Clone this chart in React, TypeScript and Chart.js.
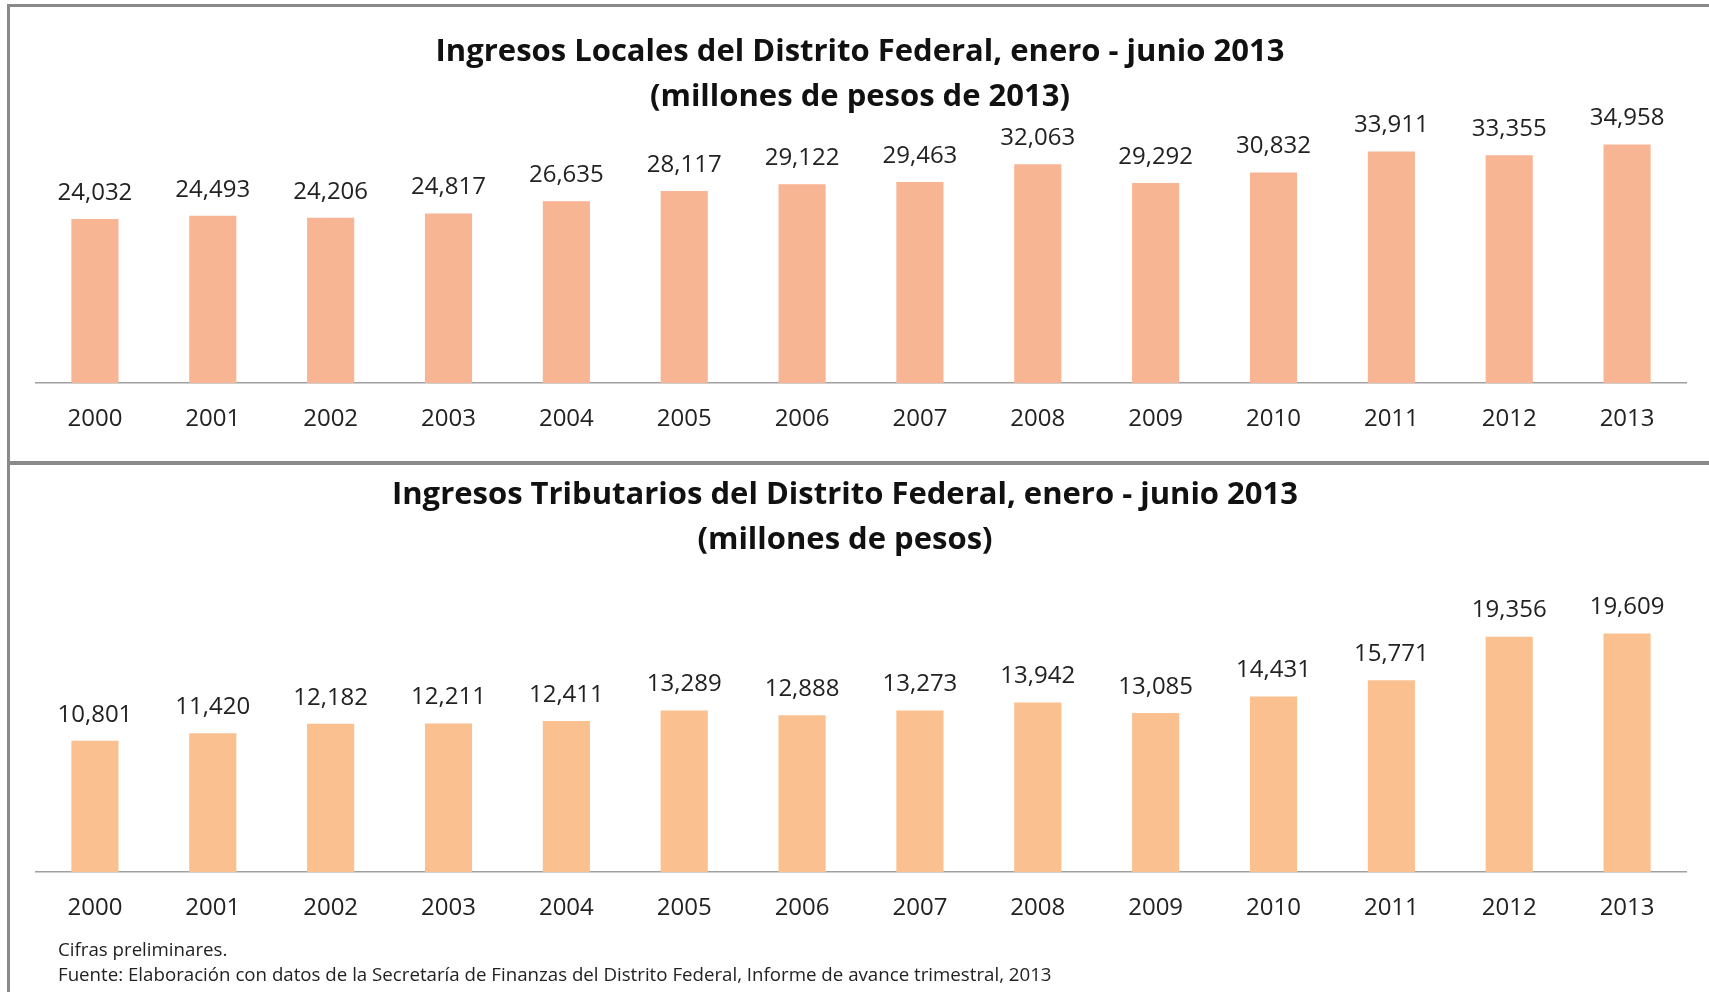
import React, { useEffect, useRef } from "react";
import { Chart, registerables } from "chart.js";

Chart.register(...registerables);

const years = ["2000", "2001", "2002", "2003", "2004", "2005", "2006", "2007", "2008", "2009", "2010", "2011", "2012", "2013"];
const ingresosLocales = [24032, 24493, 24206, 24817, 26635, 28117, 29122, 29463, 32063, 29292, 30832, 33911, 33355, 34958];
const ingresosTributarios = [10801, 11420, 12182, 12211, 12411, 13289, 12888, 13273, 13942, 13085, 14431, 15771, 19356, 19609];

const topTitle = ["Ingresos Locales del Distrito Federal, enero - junio 2013", "(millones de pesos de 2013)"];
const bottomTitle = ["Ingresos Tributarios del Distrito Federal, enero - junio 2013", "(millones de pesos)"];
const footnotes = [
  "Cifras preliminares.",
  "Fuente: Elaboración con datos de la Secretaría de Finanzas del Distrito Federal, Informe de avance trimestral, 2013",
];

const FONT = "'Open Sans', 'Liberation Sans', sans-serif";
const TITLE_FONT = "'Open Sans', 'Liberation Sans', sans-serif";

const valueLabels = {
  id: "valueLabels",
  afterDatasetsDraw(chart: any, _args: any, opts: any) {
    const { ctx } = chart;
    const meta = chart.getDatasetMeta(0);
    const data = chart.data.datasets[0].data as number[];
    ctx.save();
    ctx.font = `24px ${FONT}`;
    ctx.fillStyle = "#222";
    ctx.textAlign = "center";
    ctx.textBaseline = "middle";
    meta.data.forEach((bar: any, i: number) => {
      ctx.fillText(data[i].toLocaleString("en-US"), bar.x, bar.y - (opts.offset ?? 26));
    });
    ctx.restore();
  },
};

type BarProps = {
  values: number[];
  color: string;
  max: number;
  width: number;
  height: number;
  padTop: number;
  axisHeight: number;
};

function BarChart({ values, color, max, width, height, padTop, axisHeight }: BarProps) {
  const ref = useRef<HTMLCanvasElement>(null);
  useEffect(() => {
    if (!ref.current) return;
    const chart = new Chart(ref.current, {
      type: "bar",
      data: {
        labels: years,
        datasets: [
          {
            data: values,
            backgroundColor: color,
            borderWidth: 0,
            barPercentage: 0.4,
            categoryPercentage: 1,
          },
        ],
      },
      options: {
        animation: false,
        responsive: false,
        devicePixelRatio: 1,
        layout: { padding: { top: padTop, left: 36, right: 23, bottom: 0 } },
        plugins: {
          legend: { display: false },
          tooltip: { enabled: false },
          title: { display: false },
          valueLabels: { offset: 26 },
        } as any,
        scales: {
          x: {
            grid: { display: false, drawTicks: false, tickLength: 0 },
            border: { display: true, color: "#a0a0a0", width: 1.5 },
            ticks: {
              color: "#222",
              font: { family: FONT, size: 24 },
              padding: 22,
              maxRotation: 0,
            },
            afterFit: (axis: any) => {
              axis.height = axisHeight;
            },
          },
          y: {
            display: false,
            min: 0,
            max: max,
          },
        },
      },
      plugins: [valueLabels],
    });
    return () => chart.destroy();
  }, []);
  return <canvas ref={ref} width={width} height={height} style={{ display: "block", width, height }} />;
}

const titleStyle = (top: number, cx: number): React.CSSProperties => ({
  position: "absolute",
  top,
  left: cx - 600,
  width: 1200,
  textAlign: "center",
  fontFamily: TITLE_FONT,
  fontWeight: 700,
  fontSize: 31,
  lineHeight: "45px",
  color: "#111",
  whiteSpace: "nowrap",
});

export default function App() {
  useEffect(() => {
    document.body.style.margin = "0";
  }, []);
  return (
    <div style={{ position: "relative", width: 1709, height: 992, overflow: "hidden", background: "#fff" }}>
      <div style={{ position: "absolute", left: 0, top: 0 }}>
        <BarChart values={ingresosLocales} color="#F8B593" max={40000} width={1709} height={463} padTop={110} axisHeight={80} />
      </div>
      <div style={{ position: "absolute", left: 0, top: 463 }}>
        <BarChart values={ingresosTributarios} color="#FAC090" max={25000} width={1709} height={529} padTop={105} axisHeight={120} />
      </div>
      <div style={titleStyle(27, 860)}>
        {topTitle.map((t) => (
          <div key={t}>{t}</div>
        ))}
      </div>
      <div style={titleStyle(470, 845)}>
        {bottomTitle.map((t) => (
          <div key={t}>{t}</div>
        ))}
      </div>
      <div
        style={{
          position: "absolute",
          left: 58,
          top: 936,
          fontFamily: FONT,
          fontSize: 18.7,
          lineHeight: "25px",
          color: "#222",
          whiteSpace: "nowrap",
        }}
      >
        {footnotes.map((t) => (
          <div key={t}>{t}</div>
        ))}
      </div>
      <div style={{ position: "absolute", left: 7, top: 4, width: 1702, height: 3, background: "#8a8a8a" }} />
      <div style={{ position: "absolute", left: 7, top: 4, width: 3, height: 988, background: "#8a8a8a" }} />
      <div style={{ position: "absolute", left: 7, top: 461, width: 1702, height: 4, background: "#8a8a8a" }} />
    </div>
  );
}
